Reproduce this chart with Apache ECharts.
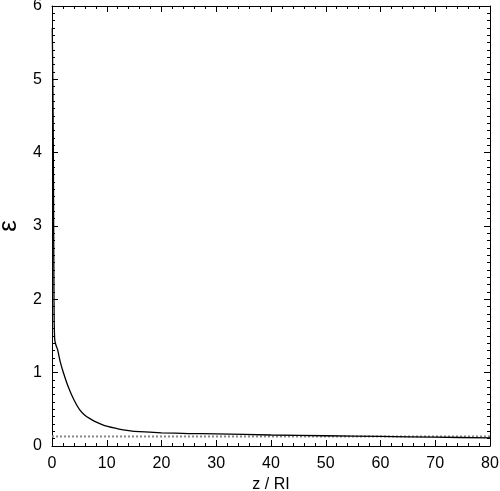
<!DOCTYPE html>
<html>
<head>
<meta charset="utf-8">
<script src="https://cdn.jsdelivr.net/npm/echarts@6/dist/echarts.min.js"></script>
<style>
  html, body { margin: 0; padding: 0; background: #fff; }
  #chart { width: 500px; height: 491px; }
</style>
</head>
<body>
<div id="chart"></div>
<script>
// epsilon vs z / RI
const zValues = [0.05, 0.15, 0.25, 0.3, 0.35, 0.4, 0.5, 0.7, 1.0, 1.5, 2, 3, 4, 5, 6, 7, 8, 10, 12, 14, 16, 20, 25, 30, 40, 50, 60, 70, 80]
const epsValues = [5.7, 5.0, 4.0, 3.0, 2.2, 1.7, 1.45, 1.38, 1.32, 1.15, 1.02, 0.8, 0.63, 0.5, 0.42, 0.37, 0.33, 0.27, 0.235, 0.21, 0.195, 0.18, 0.17, 0.165, 0.15, 0.14, 0.13, 0.12, 0.11]
const refZ = [0, 80]
const refEps = [0.13, 0.13]

const font = 'Liberation Sans, Arial, sans-serif'

const chart = echarts.init(document.getElementById('chart'))

const axisCommon = {
  axisLine: { show: true, onZero: false, lineStyle: { color: '#000', width: 1 } },
  axisTick: { show: true, inside: true, length: 6, lineStyle: { color: '#000' } },
  minorTick: { show: true, length: 3, lineStyle: { color: '#000' } },
  splitLine: { show: false }
}

chart.setOption({
  animation: false,
  grid: { left: 52, right: 10, top: 6, bottom: 45, containLabel: false, outerBoundsMode: 'none' },
  xAxis: [
    {
      ...axisCommon,
      type: 'value', min: 0, max: 80, interval: 10, position: 'bottom',
      minorTick: { ...axisCommon.minorTick, splitNumber: 5 },
      axisLabel: { color: '#000', fontSize: 16, fontFamily: font, margin: 10 },
      name: 'z / RI', nameLocation: 'middle', nameGap: 24,
      nameTextStyle: { color: '#000', fontSize: 16, fontFamily: font }
    },
    {
      ...axisCommon,
      type: 'value', min: 0, max: 80, interval: 10, position: 'top',
      minorTick: { ...axisCommon.minorTick, splitNumber: 5 },
      axisLabel: { show: false }
    }
  ],
  yAxis: [
    {
      ...axisCommon,
      type: 'value', min: 0, max: 6, interval: 1, position: 'left',
      minorTick: { ...axisCommon.minorTick, splitNumber: 10 },
      axisLabel: { color: '#000', fontSize: 16, fontFamily: font, margin: 10 },
      name: 'ε', nameLocation: 'middle', nameGap: 27, nameRotate: 90,
      nameTextStyle: { color: '#000', fontSize: 26, fontFamily: font }
    },
    {
      ...axisCommon,
      type: 'value', min: 0, max: 6, interval: 1, position: 'right',
      minorTick: { ...axisCommon.minorTick, splitNumber: 10 },
      axisLabel: { show: false }
    }
  ],
  series: [
    {
      type: 'line',
      data: refZ.map((z, i) => [z, refEps[i]]),
      showSymbol: false,
      lineStyle: { color: '#888', width: 2, type: 'dotted' }
    },
    {
      type: 'line',
      smooth: 0.3,
      data: zValues.map((z, i) => [z, epsValues[i]]),
      showSymbol: false,
      lineStyle: { color: '#000', width: 1.3 }
    }
  ]
})
</script>
</body>
</html>
